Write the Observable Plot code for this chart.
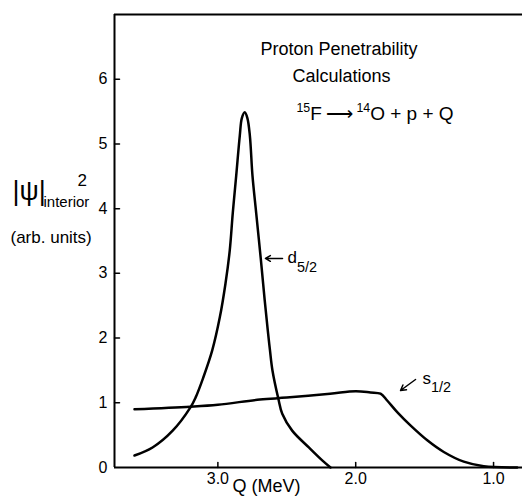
<!DOCTYPE html>
<html><head><meta charset="utf-8">
<script src="https://cdn.jsdelivr.net/npm/d3@7"></script>
<script src="https://cdn.jsdelivr.net/npm/@observablehq/plot@0.6"></script>
<style>html,body{margin:0;padding:0;background:#fff;overflow:hidden}</style>
</head><body><div id="chart"></div>
<script>
// d5/2 curve (Q in MeV, |psi|^2 arb. units)
const d52Q = [3.605, 3.474, 3.328, 3.199, 3.162, 3.106, 3.041, 2.986, 2.945, 2.914, 2.892, 2.867, 2.841, 2.826, 2.805, 2.786, 2.768, 2.749, 2.722, 2.689, 2.660, 2.638, 2.622, 2.604, 2.562, 2.533, 2.461, 2.340, 2.243, 2.183];
const d52V = [0.185, 0.31, 0.57, 0.93, 1.08, 1.39, 1.81, 2.32, 2.84, 3.35, 3.93, 4.51, 5.13, 5.40, 5.49, 5.40, 5.13, 4.51, 3.93, 3.23, 2.58, 2.12, 1.81, 1.50, 1.07, 0.83, 0.57, 0.31, 0.11, 0.0];
// s1/2 curve
const s12Q = [3.605, 3.199, 3.0, 2.695, 2.5, 2.186, 2.0, 1.893, 1.82, 1.772, 1.699, 1.603, 1.481, 1.361, 1.216, 1.071, 0.829];
const s12V = [0.90, 0.94, 0.97, 1.05, 1.08, 1.14, 1.18, 1.16, 1.14, 1.035, 0.855, 0.65, 0.42, 0.24, 0.09, 0.02, 0.0];

const xTicks = [3.0, 2.0, 1.0];
const yTicks = [0, 1, 2, 3, 4, 5, 6];
const xDomain = [3.75, 0.79];
const yDomain = [0, 7];

// annotations (data coordinates)
const titleLines = [
  {text: "Proton Penetrability", Q: 2.121, v: 6.46, size: 18},
  {text: "Calculations", Q: 2.103, v: 6.04, size: 18},
  {text: "^{15}F\u2009⟶\u2009^{14}O + p + Q", Q: 1.860, v: 5.46, size: 19}
];
const curveLabels = [
  {text: "d_{5/2}", Q: 2.495, v: 3.24},
  {text: "s_{1/2}", Q: 1.516, v: 1.38}
];
const labelArrows = [
  {Q1: 2.531, v1: 3.23, Q2: 2.655, v2: 3.23},
  {Q1: 1.566, v1: 1.36, Q2: 1.675, v2: 1.19}
];

const d52 = d52Q.map((Q, i) => ({Q, v: d52V[i]}));
const s12 = s12Q.map((Q, i) => ({Q, v: s12V[i]}));

const tickShape = {draw(context, l) { context.moveTo(0, 0); context.lineTo(0, -l); }};

const chart = Plot.plot({
  width: 523,
  height: 500,
  marginLeft: 114,
  marginRight: 1,
  marginTop: 14,
  marginBottom: 33,
  x: {domain: xDomain},
  y: {domain: yDomain},
  style: {fontFamily: "Liberation Sans, Arial, sans-serif", fontSize: "16px", color: "black", background: "white"},
  marks: [
    Plot.ruleY([yDomain[0], yDomain[1]], {stroke: "black", strokeWidth: 2}),
    Plot.ruleX([xDomain[0]], {stroke: "black", strokeWidth: 2}),
    Plot.vector(yTicks.slice(1), {x: xDomain[0], y: d => d, length: 5, rotate: 90, anchor: "start", shape: tickShape, stroke: "black", strokeWidth: 1.5}),
    Plot.vector(xTicks, {x: d => d, y: yDomain[0], length: 5, rotate: 0, anchor: "start", shape: tickShape, stroke: "black", strokeWidth: 1.5}),
    Plot.axisY({ticks: yTicks, tickSize: 0, tickPadding: 7, tickFormat: d3.format("d"), label: null, fontSize: 16}),
    Plot.axisX({ticks: xTicks, tickSize: 0, tickPadding: 5, tickFormat: d3.format(".1f"), label: null, fontSize: 16}),
    Plot.line(d52, {x: "Q", y: "v", curve: "catmull-rom", stroke: "black", strokeWidth: 2.5}),
    Plot.line(s12, {x: "Q", y: "v", curve: "catmull-rom", stroke: "black", strokeWidth: 2.5}),
    Plot.arrow(labelArrows, {x1: "Q1", y1: "v1", x2: "Q2", y2: "v2", headLength: 6, stroke: "black", strokeWidth: 1.5}),
    Plot.text(curveLabels, {x: "Q", y: "v", text: "text", textAnchor: "start", fontSize: 17}),
    Plot.text(titleLines, {x: "Q", y: "v", text: "text", fontSize: d => d.size}),
    // y-axis title parts
    Plot.text(["|ψ|"], {text: d => d, frameAnchor: "top-left", textAnchor: "start", dx: -102, dy: 166, fontSize: 27}),
    Plot.text(["2"], {text: d => d, frameAnchor: "top-left", textAnchor: "start", dx: -37, dy: 159.5, fontSize: 17}),
    Plot.text(["interior"], {text: d => d, frameAnchor: "top-left", textAnchor: "start", dx: -71, dy: 182, fontSize: 15}),
    Plot.text(["(arb. units)"], {text: d => d, frameAnchor: "top-left", textAnchor: "start", dx: -104, dy: 216, fontSize: 17}),
    // x-axis title
    Plot.text(["Q (MeV)"], {text: d => d, frameAnchor: "bottom-left", textAnchor: "start", dx: 118, dy: 24, fontSize: 18})
  ]
});
document.getElementById("chart").appendChild(chart);

// turn ^{..} / _{..} markup into real superscript / subscript tspans
function richify(svg) {
  svg.querySelectorAll("text").forEach(t => {
    const s = t.textContent;
    if (!/[\^_]\{/.test(s) || t.querySelector("tspan")) return;
    const parts = [];
    const re = /([\^_])\{([^}]*)\}|([^\^_]+)/g;
    let m;
    while ((m = re.exec(s))) parts.push(m[3] != null ? {kind: "", str: m[3]} : {kind: m[1], str: m[2]});
    const base = parseFloat(getComputedStyle(t).fontSize) || 16;
    t.textContent = "";
    let shift = 0;
    for (const p of parts) {
      const target = p.kind === "^" ? -0.45 * base : p.kind === "_" ? 0.5 * base : 0;
      const ts = document.createElementNS("http://www.w3.org/2000/svg", "tspan");
      ts.setAttribute("dy", target - shift);
      shift = target;
      if (p.kind === "^") ts.setAttribute("font-size", 0.65 * base);
      if (p.kind === "_") ts.setAttribute("font-size", 0.85 * base);
      ts.textContent = p.str;
      t.appendChild(ts);
    }
  });
}
richify(chart);
</script>
</body></html>
